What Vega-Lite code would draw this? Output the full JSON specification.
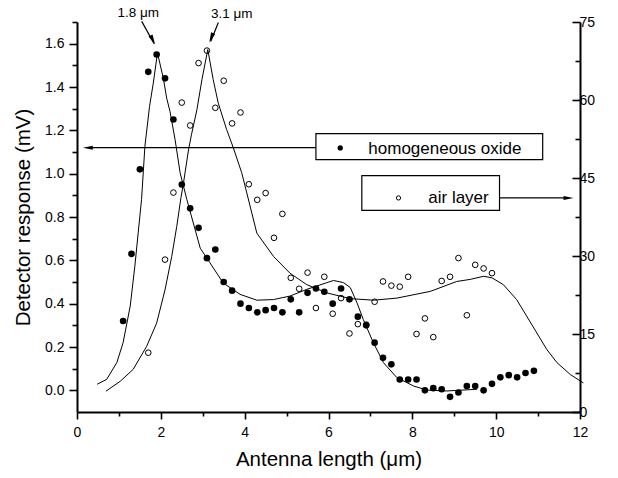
{
  "$schema": "https://vega.github.io/schema/vega-lite/v6.json",
  "width": 503,
  "height": 390,
  "autosize": {"type": "none"},
  "padding": {"left": 77, "top": 22, "right": 38, "bottom": 66},
  "config": {
    "view": {"stroke": null},
    "font": "Liberation Sans",
    "axis": {"grid": false, "domainColor": "#000000", "tickColor": "#000000", "labelColor": "#000000", "titleColor": "#000000", "domainWidth": 2, "tickWidth": 1.6, "labelFont": "Liberation Sans", "titleFont": "Liberation Sans", "titleFontWeight": "normal", "labelFontSize": 14, "titleFontSize": 20.5, "labelFlush": false, "labelOverlap": false}
  },
  "datasets": {
    "oxide": [
      {"x": 1.1, "y": 0.32}, {"x": 1.3, "y": 0.63}, {"x": 1.5, "y": 1.02}, {"x": 1.7, "y": 1.47}, {"x": 1.9, "y": 1.55},
      {"x": 2.1, "y": 1.44}, {"x": 2.3, "y": 1.25}, {"x": 2.5, "y": 0.95}, {"x": 2.7, "y": 0.84}, {"x": 2.9, "y": 0.75},
      {"x": 3.1, "y": 0.61}, {"x": 3.3, "y": 0.65}, {"x": 3.5, "y": 0.5}, {"x": 3.7, "y": 0.46}, {"x": 3.9, "y": 0.4},
      {"x": 4.1, "y": 0.38}, {"x": 4.3, "y": 0.36}, {"x": 4.5, "y": 0.37}, {"x": 4.7, "y": 0.38}, {"x": 4.9, "y": 0.36},
      {"x": 5.1, "y": 0.42}, {"x": 5.3, "y": 0.36}, {"x": 5.5, "y": 0.45}, {"x": 5.7, "y": 0.47}, {"x": 5.9, "y": 0.455},
      {"x": 6.1, "y": 0.4}, {"x": 6.3, "y": 0.47}, {"x": 6.5, "y": 0.42}, {"x": 6.7, "y": 0.34}, {"x": 6.9, "y": 0.3},
      {"x": 7.1, "y": 0.22}, {"x": 7.3, "y": 0.15}, {"x": 7.5, "y": 0.12}, {"x": 7.7, "y": 0.05}, {"x": 7.9, "y": 0.05},
      {"x": 8.1, "y": 0.05}, {"x": 8.3, "y": 0.0}, {"x": 8.5, "y": 0.01}, {"x": 8.7, "y": 0.005}, {"x": 8.9, "y": -0.03},
      {"x": 9.1, "y": -0.01}, {"x": 9.3, "y": 0.02}, {"x": 9.5, "y": 0.02}, {"x": 9.7, "y": 0.0}, {"x": 9.9, "y": 0.03},
      {"x": 10.1, "y": 0.06}, {"x": 10.3, "y": 0.07}, {"x": 10.5, "y": 0.06}, {"x": 10.7, "y": 0.08}, {"x": 10.9, "y": 0.09}
    ],
    "air": [
      {"x": 1.7, "y": 11.4}, {"x": 2.1, "y": 29.3}, {"x": 2.3, "y": 42.2}, {"x": 2.5, "y": 59.5}, {"x": 2.7, "y": 55.1},
      {"x": 2.9, "y": 67.1}, {"x": 3.1, "y": 69.5}, {"x": 3.3, "y": 58.5}, {"x": 3.5, "y": 63.7}, {"x": 3.7, "y": 55.5},
      {"x": 3.9, "y": 57.6}, {"x": 4.1, "y": 43.8}, {"x": 4.3, "y": 40.8}, {"x": 4.5, "y": 42.1}, {"x": 4.7, "y": 33.5},
      {"x": 4.9, "y": 38.1}, {"x": 5.1, "y": 25.8}, {"x": 5.3, "y": 23.7}, {"x": 5.5, "y": 26.8}, {"x": 5.7, "y": 20.0},
      {"x": 5.9, "y": 26.0}, {"x": 6.1, "y": 18.9}, {"x": 6.3, "y": 21.9}, {"x": 6.5, "y": 15.1}, {"x": 6.7, "y": 16.9},
      {"x": 6.9, "y": 16.8}, {"x": 7.1, "y": 21.2}, {"x": 7.3, "y": 25.1}, {"x": 7.5, "y": 24.3}, {"x": 7.7, "y": 24.1},
      {"x": 7.9, "y": 26.0}, {"x": 8.1, "y": 15.0}, {"x": 8.3, "y": 18.0}, {"x": 8.5, "y": 14.4}, {"x": 8.7, "y": 25.2},
      {"x": 8.9, "y": 26.0}, {"x": 9.1, "y": 29.6}, {"x": 9.3, "y": 18.6}, {"x": 9.5, "y": 28.3}, {"x": 9.7, "y": 27.6},
      {"x": 9.9, "y": 26.7}
    ],
    "oxideFit": [
      {"x": 0.48, "y": 0.028}, {"x": 0.71, "y": 0.051}, {"x": 0.95, "y": 0.128}, {"x": 1.1, "y": 0.22}, {"x": 1.27, "y": 0.389},
      {"x": 1.38, "y": 0.573}, {"x": 1.46, "y": 0.727}, {"x": 1.54, "y": 0.881}, {"x": 1.62, "y": 1.126}, {"x": 1.73, "y": 1.31},
      {"x": 1.82, "y": 1.418}, {"x": 1.92, "y": 1.557}, {"x": 2.06, "y": 1.44}, {"x": 2.14, "y": 1.348}, {"x": 2.22, "y": 1.286},
      {"x": 2.34, "y": 1.157}, {"x": 2.46, "y": 1.004}, {"x": 2.62, "y": 0.881}, {"x": 2.94, "y": 0.656}, {"x": 3.17, "y": 0.589},
      {"x": 3.49, "y": 0.495}, {"x": 3.89, "y": 0.443}, {"x": 4.29, "y": 0.416}, {"x": 4.69, "y": 0.419}, {"x": 5.08, "y": 0.435},
      {"x": 5.48, "y": 0.466}, {"x": 5.96, "y": 0.497}, {"x": 6.12, "y": 0.507}, {"x": 6.36, "y": 0.497}, {"x": 6.52, "y": 0.474},
      {"x": 6.68, "y": 0.404}, {"x": 6.83, "y": 0.327}, {"x": 7.07, "y": 0.22}, {"x": 7.31, "y": 0.128}, {"x": 7.63, "y": 0.059},
      {"x": 8.03, "y": 0.02}, {"x": 8.35, "y": 0.001}, {"x": 8.82, "y": -0.003}, {"x": 9.54, "y": 0.005}
    ],
    "airFit": [
      {"x": 0.69, "y": 4.0}, {"x": 1.03, "y": 5.9}, {"x": 1.34, "y": 8.2}, {"x": 1.66, "y": 12.6}, {"x": 1.9, "y": 17.1},
      {"x": 2.1, "y": 23.5}, {"x": 2.26, "y": 29.9}, {"x": 2.38, "y": 35.7}, {"x": 2.48, "y": 41.2}, {"x": 2.54, "y": 44.0},
      {"x": 2.66, "y": 50.4}, {"x": 2.73, "y": 53.3}, {"x": 2.86, "y": 58.1}, {"x": 2.98, "y": 63.9}, {"x": 3.12, "y": 69.7},
      {"x": 3.25, "y": 63.9}, {"x": 3.37, "y": 59.4}, {"x": 3.57, "y": 54.3}, {"x": 3.73, "y": 50.8}, {"x": 3.93, "y": 46.0},
      {"x": 4.03, "y": 42.8}, {"x": 4.29, "y": 34.4}, {"x": 4.69, "y": 29.9}, {"x": 5.08, "y": 26.7}, {"x": 5.48, "y": 24.5},
      {"x": 5.96, "y": 22.9}, {"x": 6.52, "y": 21.8}, {"x": 7.07, "y": 21.5}, {"x": 7.63, "y": 21.9}, {"x": 8.43, "y": 23.2},
      {"x": 9.06, "y": 25.1}, {"x": 9.38, "y": 25.5}, {"x": 9.7, "y": 26.1}, {"x": 9.9, "y": 25.8}, {"x": 10.17, "y": 24.5},
      {"x": 10.49, "y": 21.6}, {"x": 10.73, "y": 18.4}, {"x": 10.97, "y": 15.2}, {"x": 11.21, "y": 12.0}, {"x": 11.45, "y": 9.5},
      {"x": 11.77, "y": 7.2}, {"x": 12.08, "y": 5.6}
    ]
  },
  "resolve": {"scale": {"y": "independent"}},
  "layer": [
    {
      "encoding": {
        "x": {"field": "x", "type": "quantitative", "scale": {"domain": [0, 12], "nice": false, "zero": false},
          "axis": {"title": "Antenna length (μm)", "values": [0,1,2,3,4,5,6,7,8,9,10,11,12],
            "labelExpr": "datum.value % 2 == 0 ? datum.label : ''",
            "tickSize": {"condition": {"test": "datum.value % 2 == 0", "value": 7}, "value": 4},
            "labelPadding": 6, "titlePadding": 10}},
        "y": {"field": "y", "type": "quantitative", "scale": {"domain": [-0.1, 1.7], "nice": false, "zero": false},
          "axis": {"title": "Detector response (mV)", "orient": "left",
            "values": [0,0.1,0.2,0.3,0.4,0.5,0.6,0.7,0.8,0.9,1.0,1.1,1.2,1.3,1.4,1.5,1.6,1.7],
            "labelExpr": "round(datum.value*10) % 2 == 0 ? format(datum.value, '.1f') : ''",
            "tickSize": {"condition": {"test": "round(datum.value*10) % 2 == 0", "value": 8}, "value": 5},
            "labelPadding": 5, "titlePadding": 11}}
      },
      "layer": [
        {
          "data": {"name": "oxideFit"},
          "mark": {"type": "line", "color": "black", "strokeWidth": 1}
        },
        {
          "data": {"name": "oxide"},
          "mark": {"type": "circle", "color": "black", "size": 44, "opacity": 1}
        },
        {
          "data": {"values": [
            {"x": 1.544, "y": 1.703, "x2": 1.84, "y2": 1.6},
            {"x": 3.372, "y": 1.698, "x2": 3.19, "y2": 1.61},
            {"x": 5.7, "y": 1.12, "x2": 0.3, "y2": 1.12},
            {"x": 10.08, "y": 0.888, "x2": 11.7, "y2": 0.888}
          ]},
          "mark": {"type": "rule", "color": "black", "strokeWidth": 1.2},
          "encoding": {"x2": {"field": "x2"}, "y2": {"field": "y2"}}
        },
        {
          "data": {"values": [{"x": 1.809, "y": 1.617}]},
          "mark": {"type": "point", "shape": "M0,-1L0.45,1L-0.45,1Z", "filled": true, "color": "black", "size": 100, "angle": 153, "opacity": 1}
        },
        {
          "data": {"values": [{"x": 3.203, "y": 1.627}]},
          "mark": {"type": "point", "shape": "M0,-1L0.45,1L-0.45,1Z", "filled": true, "color": "black", "size": 100, "angle": 202, "opacity": 1}
        },
        {
          "data": {"values": [{"x": 0.258, "y": 1.12}]},
          "mark": {"type": "point", "shape": "M0,-1L0.4,1L-0.4,1Z", "filled": true, "color": "black", "size": 100, "angle": 270, "opacity": 1}
        },
        {
          "data": {"values": [{"x": 11.726, "y": 0.888}]},
          "mark": {"type": "point", "shape": "M0,-1L0.4,1L-0.4,1Z", "filled": true, "color": "black", "size": 100, "angle": 90, "opacity": 1}
        },
        {
          "data": {"values": [
            {"x": 5.7, "x2": 11.11, "y": 1.185, "y2": 1.065},
            {"x": 6.795, "x2": 10.08, "y": 0.991, "y2": 0.831}
          ]},
          "mark": {"type": "rect", "fill": "white", "stroke": "black", "strokeWidth": 1.2},
          "encoding": {"x2": {"field": "x2"}, "y2": {"field": "y2"}}
        },
        {
          "data": {"values": [{"x": 6.28, "y": 1.119}]},
          "mark": {"type": "circle", "color": "black", "size": 28, "opacity": 1}
        },
        {
          "data": {"values": [{"x": 7.67, "y": 0.888}]},
          "mark": {"type": "point", "shape": "circle", "filled": false, "color": "black", "size": 18, "strokeWidth": 1, "opacity": 1}
        },
        {
          "data": {"values": [
            {"x": 6.95, "y": 1.116, "label": "homogeneous oxide"},
            {"x": 8.38, "y": 0.888, "label": "air layer"}
          ]},
          "mark": {"type": "text", "align": "left", "baseline": "middle", "fontSize": 17, "color": "black", "font": "Liberation Sans"},
          "encoding": {"text": {"field": "label"}}
        },
        {
          "data": {"values": [
            {"x": 1.46, "y": 1.741, "label": "1.8 μm"},
            {"x": 3.69, "y": 1.738, "label": "3.1 μm"}
          ]},
          "mark": {"type": "text", "align": "center", "baseline": "middle", "fontSize": 13.5, "color": "black", "font": "Liberation Sans"},
          "encoding": {"text": {"field": "label"}}
        }
      ]
    },
    {
      "encoding": {
        "x": {"field": "x", "type": "quantitative", "scale": {"domain": [0, 12], "nice": false, "zero": false}},
        "y": {"field": "y", "type": "quantitative", "scale": {"domain": [0, 75], "nice": false, "zero": false},
          "axis": {"title": null, "orient": "right",
            "values": [0,7.5,15,22.5,30,37.5,45,52.5,60,67.5,75],
            "labelExpr": "datum.value % 15 == 0 ? datum.label : ''",
            "tickSize": {"condition": {"test": "datum.value % 15 == 0", "value": -8}, "value": -5},
            "labelPadding": 7}}
      },
      "layer": [
        {
          "data": {"name": "airFit"},
          "mark": {"type": "line", "color": "black", "strokeWidth": 1}
        },
        {
          "data": {"name": "air"},
          "mark": {"type": "point", "shape": "circle", "filled": false, "color": "black", "size": 32, "strokeWidth": 1, "opacity": 1}
        }
      ]
    }
  ]
}
